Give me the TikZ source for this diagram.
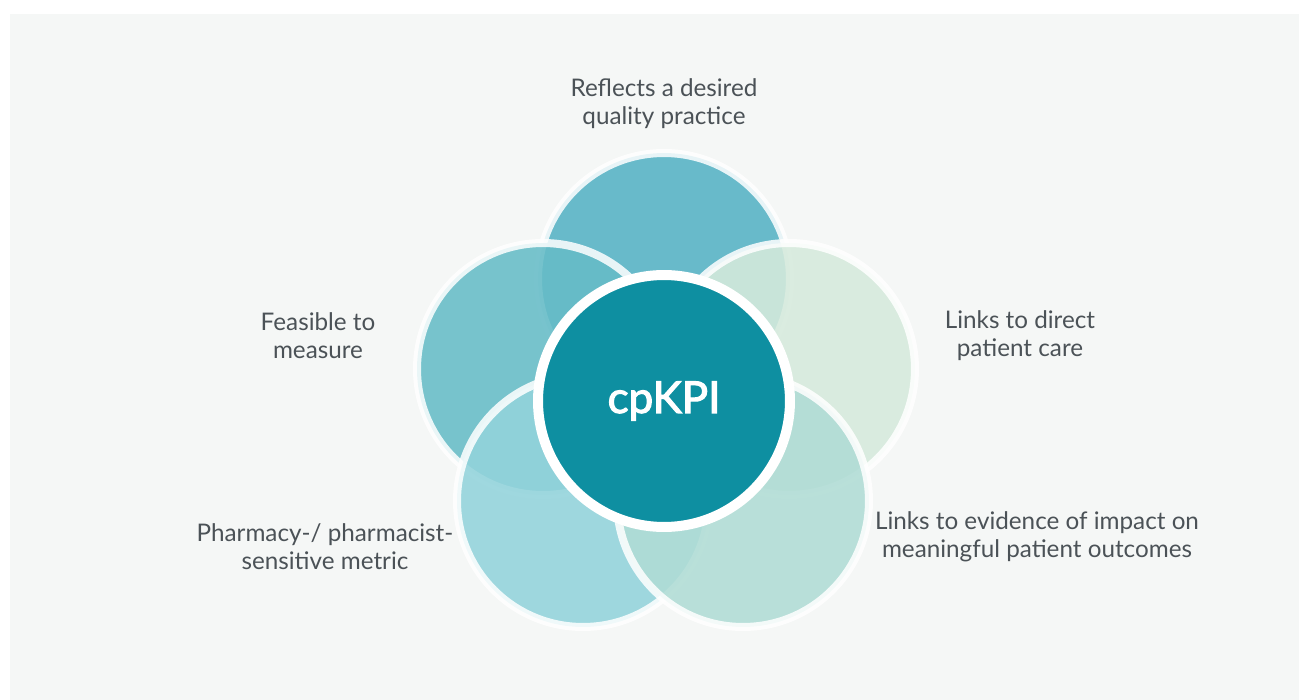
\documentclass[tikz,border=0pt]{standalone}
\usepackage{fontspec}
\setmainfont{Lato}
\newfontfamily\corefont{Lato}[RawFeature={embolden=2.5}]
\usepackage{tikz}
\usetikzlibrary{positioning}
\definecolor{panel}{HTML}{F5F7F6}
\definecolor{core}{HTML}{0E8FA1}
\definecolor{txt}{HTML}{4B5257}
\definecolor{pTop}{HTML}{55B2C5}
\definecolor{pLeft}{HTML}{66BCC7}
\definecolor{pRight}{HTML}{D6EADC}
\definecolor{pBotL}{HTML}{93D3DB}
\definecolor{pBotR}{HTML}{B0DCD5}
\newcommand\Clr{pTop}

\begin{document}
\begin{tikzpicture}[x=0.02cm, y=0.02cm,
    petal/.style={circle, minimum size=5.04cm, inner sep=0pt, fill opacity=0.88, draw=white, draw opacity=0.85, line width=0.16cm},
    label/.style={text=txt, align=center, font=\fontsize{13.8}{16}\selectfont}]
                \useasboundingbox (-664,-299) rectangle (635,401);
                \fill[white] (-664,-299) rectangle (635,401);
                \fill[panel] (-654,-299) rectangle (635,387);

                \foreach \x/\y/\n in {0/122/1,-121/32/2,125/32/3,-81/-100/4,79/-100/5}{
                  \ifcase\n\or
                      \renewcommand\Clr{pTop}\or
                      \renewcommand\Clr{pLeft}\or
                      \renewcommand\Clr{pRight}\or
                      \renewcommand\Clr{pBotL}\or
                      \renewcommand\Clr{pBotR}
                  \fi
                  \node[petal, fill = {\Clr}] at (\x,\y) (p\n) {};
                }
                \node [circle, fill=core, draw=white, line width=0.2cm, minimum size=5.04cm, inner sep=0pt,
                       text=white, font=\corefont\fontsize{25}{28}\selectfont] (c) at (0,0) {cpKPI};

                \node[label] (t1) at (0,297) {Reflects a desired\\quality practice};
                \node[label] (t2) at (-346,65) {Feasible to\\measure};
                \node[label] (t3) at (356,65) {Links to direct\\patient care};
                \node[label] (t4) at (-339,-146) {Pharmacy-/ pharmacist-\\sensitive metric};
                \node[label] (t5) at (373,-136) {Links to evidence of impact on\\meaningful patient outcomes};
                \end{tikzpicture}
\end{document}
